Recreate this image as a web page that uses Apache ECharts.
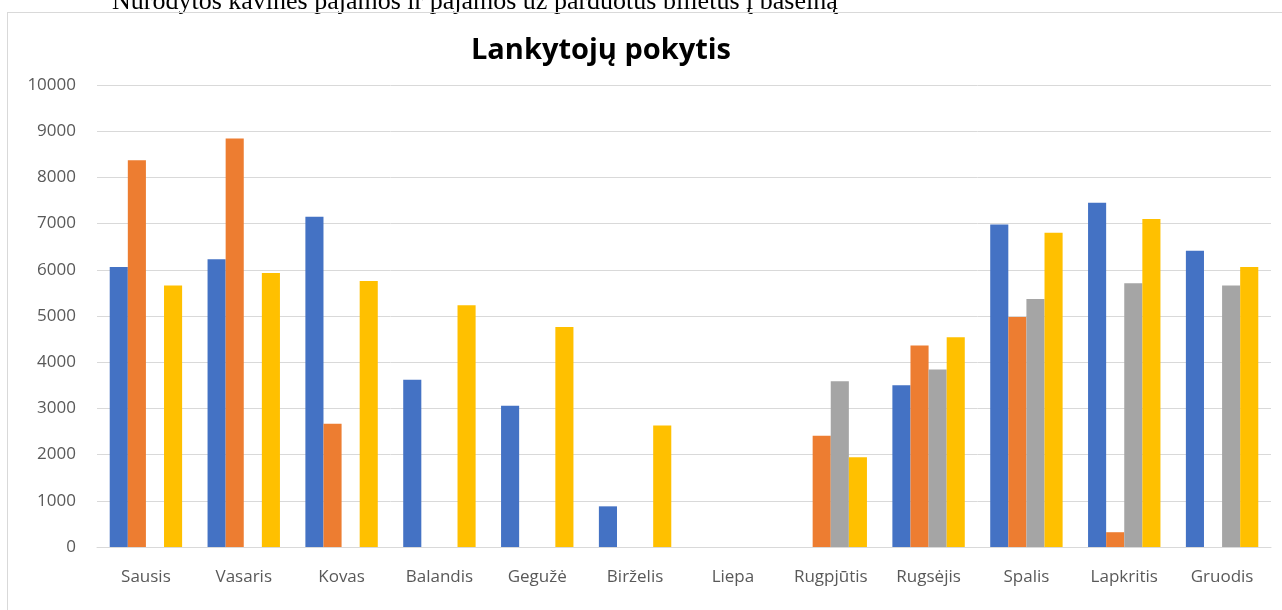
<!DOCTYPE html>
<html>
<head>
<meta charset="utf-8">
<script src="https://cdn.jsdelivr.net/npm/echarts@6/dist/echarts.min.js"></script>
<style>
  html, body { margin: 0; padding: 0; background: #fff; overflow: hidden; }
  #main { width: 1282px; height: 610px; position: relative; }
  .frame {
    position: absolute; left: 7px; top: 12px; width: 1290px; height: 620px;
    border: 1px solid #d9d9d9; box-sizing: border-box; pointer-events: none;
  }
</style>
</head>
<body>
<div id="main"></div>
<div class="frame"></div>
<script>
// menesiai
const months = ['Sausis', 'Vasaris', 'Kovas', 'Balandis', 'Gegužė', 'Birželis',
  'Liepa', 'Rugpjūtis', 'Rugsėjis', 'Spalis', 'Lapkritis', 'Gruodis'];

// lankytoju skaiciai pagal seka
const seka1 = [6060, 6230, 7150, 3620, 3060, 880, 0, 0, 3500, 6980, 7450, 6410];
const seka2 = [8370, 8840, 2670, 0, 0, 0, 0, 2410, 4360, 4980, 320, 0];
const seka3 = [0, 0, 0, 0, 0, 0, 0, 3590, 3840, 5370, 5710, 5660];
const seka4 = [5660, 5930, 5760, 5230, 4760, 2630, 0, 1940, 4540, 6800, 7100, 6060];

const seriesNames = ['1 seka', '2 seka', '3 seka', '4 seka'];
const colors = ['#4472C4', '#ED7D31', '#A5A5A5', '#FFC000'];

const chart = echarts.init(document.getElementById('main'));

const makeBar = (name, data) => ({
  name: name,
  type: 'bar',
  data: data,
  barGap: '0%',
  barCategoryGap: '26%'
});

chart.setOption({
  animation: false,
  color: colors,
  title: [
    {
      text: 'Nurodytos kavinės pajamos ir pajamos už parduotus bilietus į baseiną',
      left: 107,
      top: -16,
      textStyle: { fontFamily: 'Liberation Serif', fontWeight: 'normal', fontSize: 26, color: '#000' }
    },
    {
      text: 'Lankytojų pokytis',
      left: 596,
      top: 31,
      textAlign: 'center',
      textStyle: { fontFamily: 'Open Sans', fontWeight: 'bold', fontSize: 29, color: '#000' }
    }
  ],
  grid: { left: 97, right: 11, top: 85, bottom: 63 },
  xAxis: {
    type: 'category',
    data: months,
    axisTick: { show: false },
    axisLine: { lineStyle: { color: '#d9d9d9' } },
    axisLabel: { color: '#595959', fontSize: 17, fontFamily: 'Open Sans', margin: 22 }
  },
  yAxis: {
    type: 'value',
    min: 0,
    max: 10000,
    interval: 1000,
    axisLine: { show: false },
    axisTick: { show: false },
    splitLine: { lineStyle: { color: '#d9d9d9' } },
    axisLabel: {
      color: '#595959', fontSize: 17, fontFamily: 'Open Sans', margin: 21,
      formatter: (v) => String(v)
    }
  },
  series: [
    makeBar(seriesNames[0], seka1),
    makeBar(seriesNames[1], seka2),
    makeBar(seriesNames[2], seka3),
    makeBar(seriesNames[3], seka4)
  ]
});
</script>
</body>
</html>
